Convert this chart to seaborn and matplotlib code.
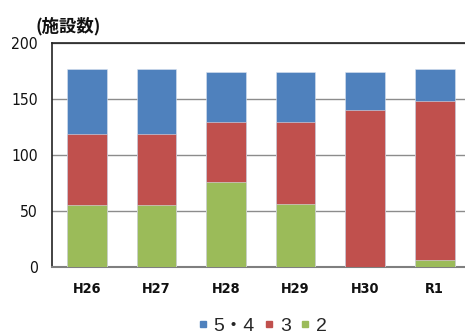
import matplotlib
matplotlib.use("Agg")
import matplotlib.pyplot as plt
from matplotlib import font_manager
from matplotlib.lines import Line2D
import seaborn as sns
import pandas as pd
import numpy as np

# Facility counts by fiscal year, split by grade
years = ["H26", "H27", "H28", "H29", "H30", "R1"]
grade_54 = [58, 58, 45, 45, 34, 28]
grade_3 = [63, 63, 53, 73, 140, 142]
grade_2 = [55, 55, 76, 56, 0, 6]
yticks = [0, 50, 100, 150, 200]

series_names = ["5・4", "3", "2"]
colors = {"5・4": "#4F81BD", "3": "#C0504D", "2": "#9BBB59"}

sns.set_theme(style="white")
plt.rcParams["font.family"] = ["Liberation Sans", "Noto Sans CJK JP", "DejaVu Sans"]

# Pick a narrow sans for the axis numbers, if one is installed
installed = font_manager.fontManager.ttflist
names = {f.name for f in installed}
if "Liberation Sans Narrow" in names:
    tick_font = dict(family="Liberation Sans Narrow", stretch="normal", scale=1.0)
elif any(f.name == "DejaVu Sans" and f.stretch == "condensed" for f in installed):
    tick_font = dict(family="DejaVu Sans", stretch="condensed", scale=0.9)
else:
    tick_font = dict(family="Liberation Sans", stretch="normal", scale=0.9)

# Stack tops: the 2 segment sits at the bottom, 3 above it, 5・4 on top
g2 = np.array(grade_2, dtype=float)
g3 = g2 + np.array(grade_3, dtype=float)
g54 = g3 + np.array(grade_54, dtype=float)
df = pd.DataFrame({"year": years, "5・4": g54, "3": g3, "2": g2})

fig = plt.figure(figsize=(4.65, 3.36), dpi=100)
ax = fig.add_axes([52 / 465, 69.3 / 336, (469.6 - 52) / 465, 224.2 / 336])

for name in series_names:
    sns.barplot(data=df, x="year", y=name, color=colors[name], width=0.57,
                saturation=1, ax=ax, edgecolor="#d9e2ef", linewidth=0.4,
                zorder=3)

ax.set_xlim(-0.5, 5.5)
ax.set_ylim(0, 200)
ax.set_yticks(yticks)
ax.set_xlabel("")
ax.set_ylabel("")
ax.yaxis.grid(True, color="#8c8c8c", linewidth=1.0, zorder=0)
ax.set_axisbelow(True)
ax.tick_params(axis="both", length=0)
ax.tick_params(axis="y", pad=10)
ax.tick_params(axis="x", pad=11)

for lbl in ax.get_yticklabels():
    lbl.set_fontfamily(tick_font["family"])
    lbl.set_fontstretch(tick_font["stretch"])
    lbl.set_fontsize(12.5 * tick_font["scale"])
    lbl.set_color("#111111")
for lbl in ax.get_xticklabels():
    lbl.set_fontfamily(tick_font["family"])
    lbl.set_fontstretch(tick_font["stretch"])
    lbl.set_fontweight("bold")
    lbl.set_fontsize(11.5 * tick_font["scale"])
    lbl.set_color("#111111")

for side in ["left", "top"]:
    ax.spines[side].set_color("#222222")
    ax.spines[side].set_linewidth(1.2)
ax.spines["bottom"].set_color("#7f7f7f")
ax.spines["bottom"].set_linewidth(1.5)
ax.spines["right"].set_visible(False)

fig.text(68 / 465, 1 - 26 / 336, "(施設数)", ha="center", va="center",
         fontsize=12.5, fontweight="bold", family=["Noto Sans CJK JP", "DejaVu Sans"],
         color="#111111")

handles = [Line2D([], [], linestyle="none", marker="s", markersize=5,
                  markerfacecolor=colors[n], markeredgecolor=colors[n])
           for n in series_names]
fig.legend(handles, series_names, loc="center",
           bbox_to_anchor=(262.5 / 465, 1 - 326 / 336), ncol=3, frameon=False,
           handlelength=0.5, handletextpad=0.3, columnspacing=0.5,
           prop={"family": ["Liberation Sans", "Noto Sans CJK JP"], "size": 14})

fig.savefig("out.png", dpi=100)
